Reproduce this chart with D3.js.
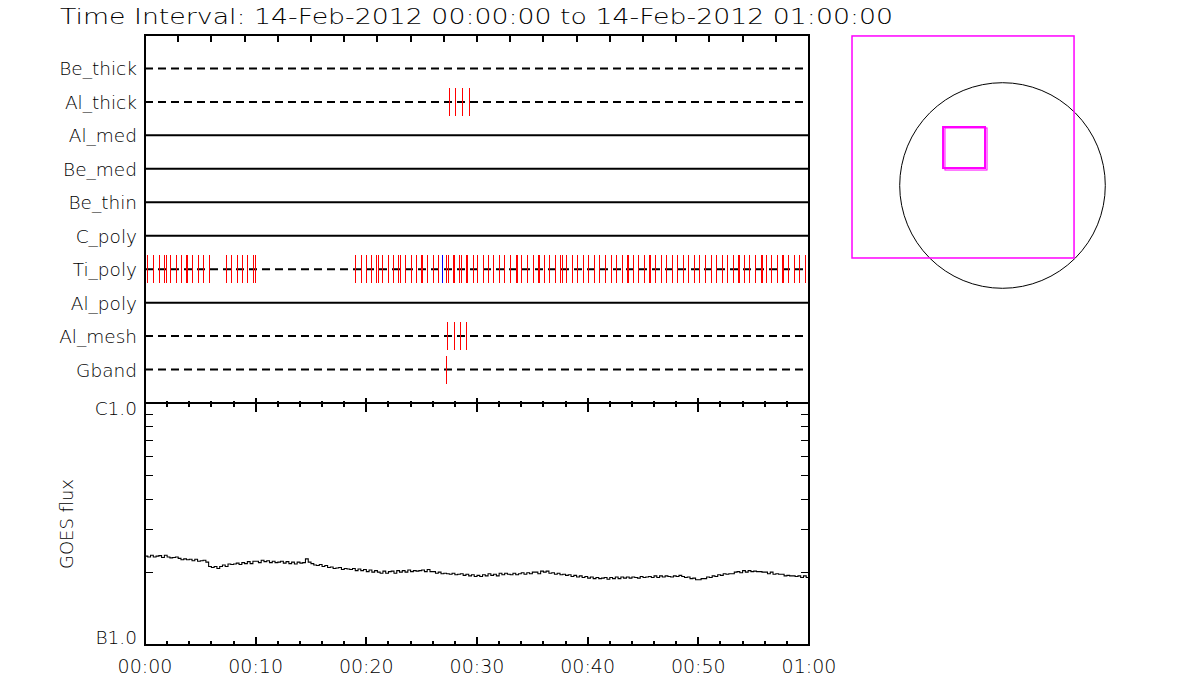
<!DOCTYPE html>
<html>
<head>
<meta charset="utf-8">
<script src="https://cdn.jsdelivr.net/npm/d3@7"></script>
<style>
  html, body { margin: 0; padding: 0; background: #fff; }
  svg { display: block; }
  text { font-family: "DejaVu Sans", "Liberation Sans", sans-serif; font-weight: 200; fill: #000; }
</style>
</head>
<body>
<svg id="chart" width="1200" height="700"></svg>
<script>
// ---------------- DATA ----------------
const titleText = "Time Interval: 14-Feb-2012 00:00:00 to 14-Feb-2012 01:00:00";
const rows = ["Be_thick","Al_thick","Al_med","Be_med","Be_thin","C_poly","Ti_poly","Al_poly","Al_mesh","Gband"];
// 0 = out (dashed baseline), 1 = in (solid baseline)
const rowState = [0,0,1,1,1,1,0,1,0,0];

// event times (minutes after 00:00)
const alThickTimes = [27.49, 28.03, 28.66, 29.24];
const tiPolyTimes = [0.21,0.75,1.26,1.72,1.87,2.26,2.77,3.25,3.70,3.82,4.27,4.76,5.27,5.78,
  7.32,7.77,8.28,8.74,9.24,9.78,9.91,
  19.00,19.50,19.99,20.42,20.87,21.02,21.44,21.98,22.43,22.88,23.04,23.49,24.00,24.48,24.91,25.00,
  25.50,25.99,26.44,27.19,27.40,27.85,27.94,28.40,28.55,29.00,29.12,29.60,30.02,30.56,31.01,31.46,
  31.98,32.43,32.97,33.51,33.63,33.97,34.48,35.02,35.53,35.62,36.04,36.52,37.04,37.49,37.64,38.03,
  38.55,39.02,39.59,40.05,40.56,41.04,41.55,42.07,42.55,43.06,43.57,43.66,44.06,44.56,45.08,45.56,
  45.62,46.07,46.59,47.07,47.58,47.66,48.09,48.58,49.08,49.59,50.07,50.59,51.10,51.58,52.10,52.60,
  53.09,53.60,53.69,54.11,54.59,55.10,55.62,55.71,56.10,56.61,57.12,57.60,57.69,58.11,58.63,59.10,59.62];
const tiPolyBlueTimes = [26.86];
const alMeshTimes = [27.31, 27.94, 28.48, 29.03];
const gbandTimes = [27.22];

// GOES flux (units of 1e-7 W/m^2), every 15 s from 00:00 to 01:00
const goesStepMin = 0.25;
const goesFlux = [
  2.33,2.31,2.35,2.31, 2.33,2.34,2.30,2.35, 2.31,2.29,2.30,2.31, 2.28,2.25,2.27,2.25,
  2.26,2.23,2.26,2.22, 2.23,2.24,2.20,2.11, 2.09,2.11,2.07,2.11, 2.14,2.11,2.16,2.15,
  2.16,2.18,2.15,2.19, 2.17,2.21,2.17,2.22, 2.22,2.19,2.24,2.21, 2.23,2.19,2.22,2.19,
  2.20,2.22,2.18,2.21, 2.17,2.20,2.16,2.20, 2.18,2.19,2.27,2.20, 2.17,2.14,2.13,2.15,
  2.11,2.13,2.09,2.10, 2.07,2.08,2.09,2.05, 2.07,2.06,2.05,2.07, 2.03,2.06,2.03,2.05,
  2.01,2.04,2.00,2.03, 2.00,1.98,2.02,1.98, 2.01,2.02,1.98,2.03, 2.00,2.03,2.00,2.04,
  2.01,2.03,2.02,2.03, 2.04,2.01,2.05,2.01, 2.01,1.98,2.00,1.97, 1.98,1.97,1.96,1.98,
  1.95,1.96,1.97,1.94, 1.96,1.93,1.95,1.92, 1.94,1.92,1.95,1.93, 1.97,1.94,1.96,1.93,
  1.98,1.95,1.98,1.96, 1.95,1.98,1.95,1.97, 1.99,1.96,1.99,1.97, 2.00,2.00,1.97,2.02,
  2.00,2.02,1.98,1.99, 1.96,1.98,1.95,1.96, 1.94,1.95,1.92,1.94, 1.91,1.93,1.90,1.92,
  1.89,1.91,1.88,1.90, 1.88,1.89,1.90,1.87, 1.90,1.88,1.91,1.88, 1.91,1.89,1.91,1.89,
  1.91,1.90,1.89,1.92, 1.90,1.91,1.92,1.90, 1.93,1.90,1.93,1.91, 1.93,1.92,1.91,1.93,
  1.92,1.94,1.92,1.90, 1.91,1.88,1.89,1.86, 1.86,1.88,1.88,1.91, 1.90,1.93,1.92,1.95,
  1.94,1.97,1.96,1.97, 1.97,2.00,2.01,1.99, 2.03,2.00,2.03,2.01, 2.02,2.01,2.01,2.00,
  2.00,1.97,2.00,1.96, 1.97,1.96,1.96,1.93, 1.94,1.93,1.93,1.92, 1.93,1.90,1.93,1.90,
  1.91
];
const timeTickLabels = ["00:00","00:10","00:20","00:30","00:40","00:50","01:00"];
const fluxTickLabels = ["B1.0","C1.0"];
const fluxLabel = "GOES flux";

// solar map (arcsec): solar radius, FOV box and pointing boxes [x0,x1,y0,y1]
const solarRadius = 970;
const fovBox = [-1420, 675, -684, 1411];
const pointingBoxes = [[-561, -165, 165, 552], [-543, -146, 146, 543]];

// ---------------- DRAW ----------------
const svg = d3.select("#chart");
const L = 145, R = 809, T1 = 35, B1 = 403, B2 = 645;

const x = d3.scaleLinear().domain([0, 60]).range([L, R]);
const yRow = d3.scalePoint().domain(rows).range([T1, B1]).padding(1);
const yFlux = d3.scaleLog().domain([1e-7, 1e-6]).range([B2, B1]);

// Title
svg.append("text").attr("x", 60).attr("y", 24)
  .attr("font-size", 21).attr("textLength", 833).attr("lengthAdjust", "spacingAndGlyphs")
  .text(titleText);

// Row baselines
svg.append("g").selectAll("line").data(rows).join("line")
  .attr("x1", L).attr("x2", R)
  .attr("y1", d => yRow(d)).attr("y2", d => yRow(d))
  .attr("stroke", "#000").attr("stroke-width", 2)
  .attr("stroke-dasharray", (d, i) => rowState[i] === 0 ? "8,5" : null);

// Row labels
svg.append("g").selectAll("text").data(rows).join("text")
  .attr("x", 137).attr("y", d => yRow(d) + 7)
  .attr("text-anchor", "end").attr("font-size", 18.5)
  .text(d => d);

// Event lines
const half = 14;
function events(rowName, times, color) {
  svg.append("g").attr("shape-rendering", "crispEdges")
    .selectAll("line").data(times).join("line")
    .attr("x1", d => Math.round(x(d)) + 0.5).attr("x2", d => Math.round(x(d)) + 0.5)
    .attr("y1", yRow(rowName) - half).attr("y2", yRow(rowName) + half)
    .attr("stroke", color).attr("stroke-width", 1);
}
events("Al_thick", alThickTimes, "#ff0000");
events("Ti_poly", tiPolyTimes, "#ff0000");
events("Ti_poly", tiPolyBlueTimes, "#0000ff");
events("Al_mesh", alMeshTimes, "#ff0000");
events("Gband", gbandTimes, "#ff0000");

// Panel frames
svg.append("rect").attr("x", L).attr("y", T1).attr("width", R - L).attr("height", B1 - T1)
  .attr("fill", "none").attr("stroke", "#000").attr("stroke-width", 2);
svg.append("rect").attr("x", L).attr("y", B1).attr("width", R - L).attr("height", B2 - B1)
  .attr("fill", "none").attr("stroke", "#000").attr("stroke-width", 2);

// Top panel top-axis ticks (every 3 min)
const topTicks = d3.range(0, 61, 3);
svg.append("g").attr("shape-rendering", "crispEdges").selectAll("line").data(topTicks).join("line")
  .attr("x1", d => x(d)).attr("x2", d => x(d))
  .attr("y1", T1).attr("y2", T1 + 7)
  .attr("stroke", "#000").attr("stroke-width", 2);

// Bottom panel time ticks
const minorT = d3.range(0, 61, 2).filter(d => d % 10 !== 0);
const majorT = d3.range(0, 61, 10);
const tg = svg.append("g").attr("shape-rendering", "crispEdges");
tg.selectAll(".mjt").data(majorT).join("line").attr("class", "mjt")
  .attr("x1", d => x(d)).attr("x2", d => x(d)).attr("y1", B1 - 5).attr("y2", B1 + 9)
  .attr("stroke", "#000").attr("stroke-width", 2);
tg.selectAll(".mnt").data(minorT).join("line").attr("class", "mnt")
  .attr("x1", d => x(d)).attr("x2", d => x(d)).attr("y1", B1 - 2).attr("y2", B1 + 4)
  .attr("stroke", "#000").attr("stroke-width", 2);
tg.selectAll(".mjb").data(majorT).join("line").attr("class", "mjb")
  .attr("x1", d => x(d)).attr("x2", d => x(d)).attr("y1", B2).attr("y2", B2 - 8)
  .attr("stroke", "#000").attr("stroke-width", 2);
tg.selectAll(".mnb").data(minorT).join("line").attr("class", "mnb")
  .attr("x1", d => x(d)).attr("x2", d => x(d)).attr("y1", B2).attr("y2", B2 - 4)
  .attr("stroke", "#000").attr("stroke-width", 2);

// Time labels
svg.append("g").selectAll("text").data(timeTickLabels).join("text")
  .attr("x", (d, i) => x(majorT[i])).attr("y", 673)
  .attr("text-anchor", "middle").attr("font-size", 19)
  .text(d => d);

// Flux minor ticks (left and right)
const fluxMinor = d3.range(2, 10).map(k => k * 1e-7);
const fg = svg.append("g").attr("shape-rendering", "crispEdges");
fg.selectAll(".fl").data(fluxMinor).join("line").attr("class", "fl")
  .attr("x1", L).attr("x2", L + 8).attr("y1", d => yFlux(d)).attr("y2", d => yFlux(d))
  .attr("stroke", "#000").attr("stroke-width", 1);
fg.selectAll(".fr").data(fluxMinor).join("line").attr("class", "fr")
  .attr("x1", R).attr("x2", R - 8).attr("y1", d => yFlux(d)).attr("y2", d => yFlux(d))
  .attr("stroke", "#000").attr("stroke-width", 1);

// Flux labels (B1.0 sits on the bottom axis, C1.0 just below the top axis)
const fluxLabelDy = [-1, 12];
svg.append("g").selectAll("text").data(fluxTickLabels).join("text")
  .attr("x", 137).attr("y", (d, i) => yFlux([1e-7, 1e-6][i]) + fluxLabelDy[i])
  .attr("text-anchor", "end").attr("font-size", 18.5)
  .text(d => d);
svg.append("text").attr("transform", "translate(73,524) rotate(-90)")
  .attr("text-anchor", "middle").attr("font-size", 18).text(fluxLabel);

// GOES curve
const goesPts = goesFlux.map((v, i) => [i * goesStepMin, v * 1e-7]);
svg.append("path").datum(goesPts)
  .attr("d", d3.line().x(d => x(d[0])).y(d => yFlux(d[1])).curve(d3.curveStepAfter))
  .attr("fill", "none").attr("stroke", "#000").attr("stroke-width", 1.1);

// Solar map
const cx = 1002.5, cy = 185.5, rpx = 102.8;
const sx = d3.scaleLinear().domain([-solarRadius, solarRadius]).range([cx - rpx, cx + rpx]);
const sy = d3.scaleLinear().domain([-solarRadius, solarRadius]).range([cy + rpx, cy - rpx]);
svg.append("circle").attr("cx", sx(0)).attr("cy", sy(0)).attr("r", sx(solarRadius) - sx(0))
  .attr("fill", "none").attr("stroke", "#000").attr("stroke-width", 1);
svg.append("rect")
  .attr("x", sx(fovBox[0])).attr("y", sy(fovBox[3]))
  .attr("width", sx(fovBox[1]) - sx(fovBox[0])).attr("height", sy(fovBox[2]) - sy(fovBox[3]))
  .attr("fill", "none").attr("stroke", "#ff00ff").attr("stroke-width", 1.5);
svg.append("g").selectAll("rect").data(pointingBoxes).join("rect")
  .attr("x", d => sx(d[0])).attr("y", d => sy(d[3]))
  .attr("width", d => sx(d[1]) - sx(d[0])).attr("height", d => sy(d[2]) - sy(d[3]))
  .attr("fill", "none").attr("stroke", "#ff00ff").attr("stroke-width", (d, i) => i === 0 ? 2 : 1);
</script>
</body>
</html>
